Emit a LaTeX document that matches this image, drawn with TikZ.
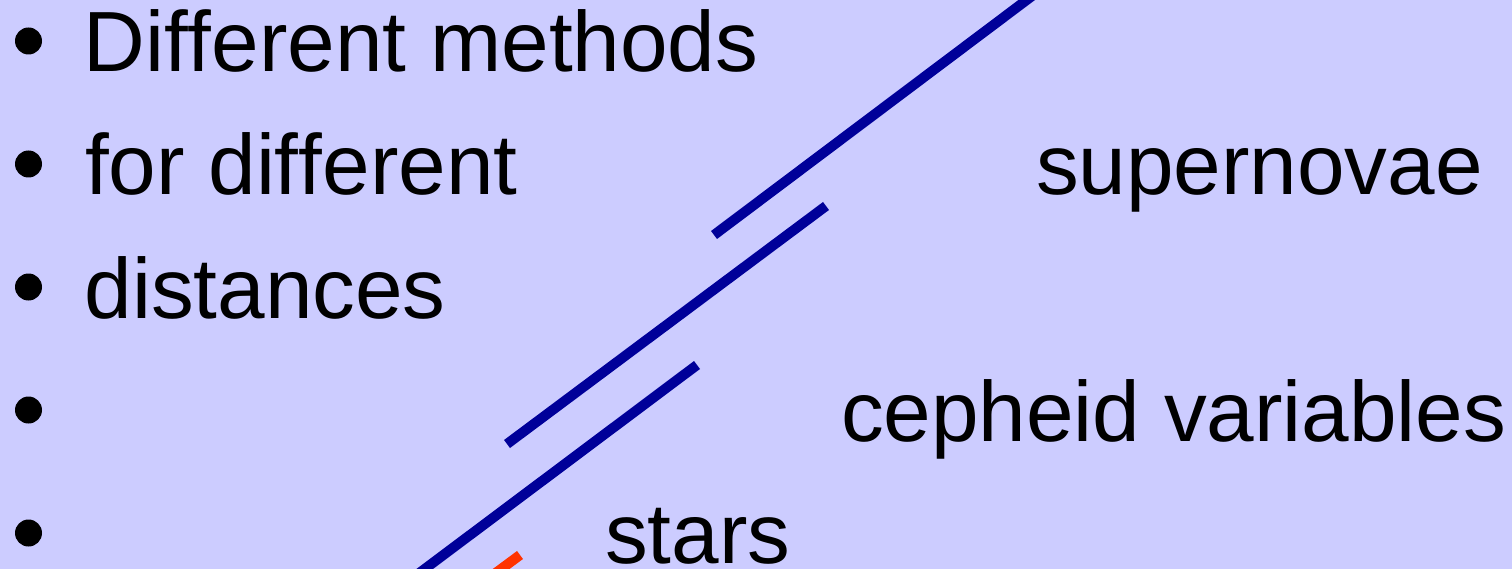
\documentclass[tikz,border=0pt]{standalone}
\usepackage{fontspec}
\setmainfont[Ligatures=NoCommon,Kerning=Off]{Liberation Sans}
\definecolor{bgc}{HTML}{CCCCFF}
\definecolor{barblue}{HTML}{000099}
\definecolor{barred}{HTML}{FF3300}
\begin{document}
\begin{tikzpicture}[x=1bp,y=-1bp,
  txt/.style={anchor=base west,inner sep=0pt,outer sep=0pt,font=\fontsize{85.5bp}{100bp}\selectfont},
  bul/.style={circle,fill=black,inner sep=0pt,minimum size=27bp},
  bar/.style={line width=10bp,color=barblue,line cap=butt},
  redbar/.style={line width=10bp,color=barred,line cap=butt}]
\useasboundingbox (0,0) rectangle (1512,569);
\clip (0,0) rectangle (1512,569);
\fill[bgc] (0,0) rectangle (1512,569);
% bullets
\node[bul] (b1) at (28.5,41) {};
\node[bul] (b2) at (28.5,164) {};
\node[bul] (b3) at (28.5,287) {};
\node[bul] (b4) at (28.5,410) {};
\node[bul] (b5) at (28.5,533) {};
% texts
\node[txt] (t1) at (83.5,72) {Different methods};
\node[txt] (t2) at (85,195) {for different};
\node[txt] (t3) at (84.5,318) {distances};
\node[txt] (t4) at (1036,195) {supernovae};
\node[txt] (t5) at (841,441) {cepheid variables};
\node[txt] (t6) at (605,563) {stars};
% bars
\coordinate (l1a) at (714,235);
\coordinate (l1b) at (1040,-10);
\coordinate (l2a) at (507,444);
\coordinate (l2b) at (826,206);
\coordinate (l3a) at (410,580);
\coordinate (l3b) at (697,365);
\coordinate (r1a) at (520,555);
\coordinate (r1b) at (493,575);
\draw[bar] (l1a) -- (l1b);
\draw[bar] (l2a) -- (l2b);
\draw[bar] (l3a) -- (l3b);
\draw[redbar] (r1a) -- (r1b);
\end{tikzpicture}
\end{document}
